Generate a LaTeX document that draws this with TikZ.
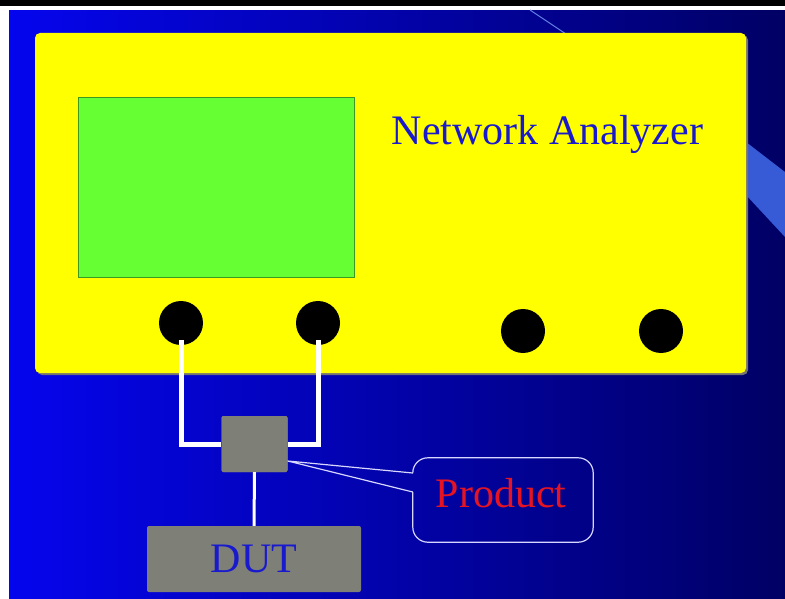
\documentclass[tikz,border=0pt]{standalone}
\usepackage{fontspec}
\setmainfont{Liberation Serif}
\begin{document}
\begin{tikzpicture}[x=1pt,y=-1pt,
  bigtext/.style={font=\fontsize{42}{50}\selectfont, inner sep=0pt},
  panel/.style={fill=naYellow, rounded corners=5pt, minimum width=711pt, minimum height=340pt, inner sep=0pt},
  port/.style={circle, fill=black, minimum size=44pt, inner sep=0pt},
  graybox/.style={fill=boxGray, rounded corners=2pt, inner sep=0pt},
  cable/.style={draw=white, line width=5pt},
  cableshadow/.style={draw=black!45, line width=5pt},
  calloutline/.style={draw=calloutWhite, line width=1.2pt}]
\definecolor{naYellow}{RGB}{255,255,0}
\definecolor{screenGreen}{RGB}{102,255,51}
\definecolor{boxGray}{RGB}{126,128,120}
\definecolor{bgLeft}{RGB}{5,5,238}
\definecolor{bgRight}{RGB}{0,0,100}
\definecolor{stripeBlue}{RGB}{55,90,215}
\definecolor{textBlue}{RGB}{25,25,205}
\definecolor{textRed}{RGB}{230,20,35}
\definecolor{calloutWhite}{RGB}{215,215,255}
\useasboundingbox (0,0) rectangle (785,599);
% frame
\fill[white] (0,0) rectangle (785,599);
\fill[black] (0,0) rectangle (785,6);
\shade[left color=bgLeft, right color=bgRight] (9,11) rectangle (785,599);
% decorative stripes
\fill[stripeBlue] (746,142) -- (785,172) -- (785,237) -- (746,195) -- cycle;
\draw[stripeBlue!80!white, line width=1pt] (530,10) -- (566,34);
% network analyzer panel
\fill[black!55, rounded corners=5pt] (37,35) rectangle (748,375);
\node[panel] (na) at (390.5,203) {};
\node[fill=screenGreen, draw=screenGreen!60!black, line width=0.8pt, minimum width=276pt, minimum height=180pt, inner sep=0pt] (screen) at (216,187) {};
\node[bigtext, text=textBlue, anchor=base] (title) at (547.5,145) {Network Analyzer};
% ports
\node[port] (p1) at (181,323) {};
\node[port] (p2) at (318,323) {};
\node[port] (p3) at (523,331) {};
\node[port] (p4) at (661,331) {};
% combiner and DUT
\node[graybox, minimum width=66pt, minimum height=56pt] (comb) at (254.5,444) {};
\node[graybox, minimum width=214pt, minimum height=66pt, bigtext, text=textBlue, text height=27.8pt, text depth=0pt] (dut) at (254,559) {DUT};
% cables
\draw[cableshadow, shift={(1.5,1.5)}] ([yshift=5pt]p1.south) |- (comb.west);
\draw[cableshadow, shift={(1.5,1.5)}] ([yshift=5pt]p2.south) |- (comb.east);
\draw[cable] ([yshift=5pt]p1.south) |- (comb.west);
\draw[cable] ([yshift=5pt]p2.south) |- (comb.east);
\node[graybox, minimum width=66pt, minimum height=56pt] at (comb.center) {};
\draw[white, line width=3pt] (comb.south) -- (dut.north);
% callout
\node[minimum width=180pt, minimum height=84pt, inner sep=0pt] (prodbox) at (503,500) {};
\node[bigtext, text=textRed, text height=27.8pt, text depth=0pt] (prod) at (501,493.5) {Product};
\coordinate (tip) at ([yshift=-17pt]comb.east);
\draw[calloutline, rounded corners=15pt] ([yshift=27pt]prodbox.west) -- (prodbox.north west) -- (prodbox.north east) -- (prodbox.south east) -- (prodbox.south west) -- ([yshift=8pt]prodbox.west);
\draw[calloutline] ([yshift=27pt]prodbox.west) -- (tip) -- ([yshift=8pt]prodbox.west);
\end{tikzpicture}
\end{document}
